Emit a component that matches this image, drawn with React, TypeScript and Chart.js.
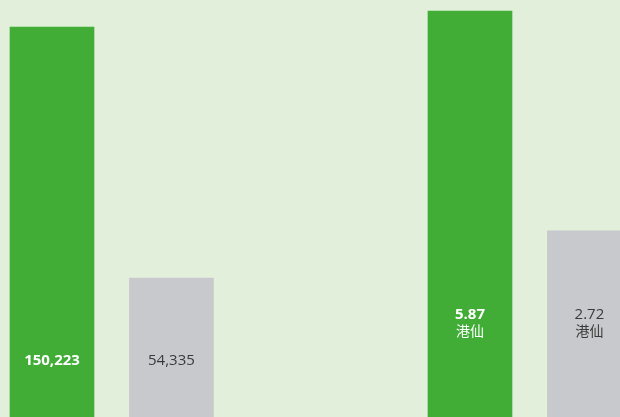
import React, { useEffect, useRef } from "react";
import { Chart, registerables } from "chart.js";

Chart.register(...registerables);

// Data
const leftCategories = ["Group A", "Group B"];
const leftValues = [150223, 54335];
const leftLabels = ["150,223", "54,335"];
const leftSlots = [0, 1];

const rightCategories = ["Group A", "Group B"];
const rightValues = [5.87, 2.72];
const rightLabels = ["5.87", "2.72"];
const rightUnit = "港仙";
const rightSlots = [3.5, 4.5];

const GREEN = "rgb(65,173,55)";
const GRAY = "rgb(200,201,204)";
const BG = "rgb(226,239,218)";
const FONT = '"Open Sans", "Noto Sans CJK TC", sans-serif';

const labelPlugin = {
  id: "barLabels",
  afterDatasetsDraw(chart: any) {
    const ctx = chart.ctx;
    const bottom = chart.height;
    ctx.save();
    ctx.textAlign = "center";
    ctx.textBaseline = "middle";
    chart.data.datasets.forEach((ds: any, di: number) => {
      const meta = chart.getDatasetMeta(di);
      meta.data.forEach((el: any, i: number) => {
        const primary = i === 0;
        ctx.fillStyle = primary ? "#ffffff" : "#3a3a3a";
        const weight = primary ? "bold " : "";
        if (di === 0) {
          ctx.font = `${weight}15px ${FONT}`;
          ctx.fillText(leftLabels[i], el.x, bottom - 56);
        } else {
          ctx.font = `${weight}15px ${FONT}`;
          ctx.fillText(rightLabels[i], el.x, bottom - 102);
          ctx.font = `14px ${FONT}`;
          ctx.fillText(rightUnit, el.x, bottom - 85);
        }
      });
    });
    ctx.restore();
  },
};

export default function App() {
  const ref = useRef<HTMLCanvasElement | null>(null);
  useEffect(() => {
    document.body.style.margin = "0";
    const canvas = ref.current!;
    const chart = new Chart(canvas, {
      type: "bar",
      data: {
        datasets: [
          {
            label: "left",
            data: leftValues.map((v, i) => ({ x: leftSlots[i], y: v, c: leftCategories[i] })) as any,
            backgroundColor: [GREEN, GRAY],
            yAxisID: "yL",
            grouped: false,
            barThickness: 84,
            clip: false,
          } as any,
          {
            label: "right",
            data: rightValues.map((v, i) => ({ x: rightSlots[i], y: v, c: rightCategories[i] })) as any,
            backgroundColor: [GREEN, GRAY],
            yAxisID: "yR",
            grouped: false,
            barThickness: 84,
            clip: false,
          } as any,
        ],
      },
      options: {
        responsive: false,
        animation: false,
        layout: { padding: 0 },
        plugins: { legend: { display: false }, tooltip: { enabled: false } },
        scales: {
          x: { type: "linear", display: false, offset: false, min: -0.4354, max: 4.756 },
          yL: { type: "linear", display: false, beginAtZero: false, min: 1336, max: 160530 },
          yR: { type: "linear", display: false, beginAtZero: false, min: 0.0502, max: 6.028 },
        },
      },
      plugins: [labelPlugin],
    });
    return () => chart.destroy();
  }, []);
  return (
    <div style={{ width: 620, height: 417, background: BG }}>
      <canvas ref={ref} width={620} height={417} style={{ display: "block" }} />
    </div>
  );
}
